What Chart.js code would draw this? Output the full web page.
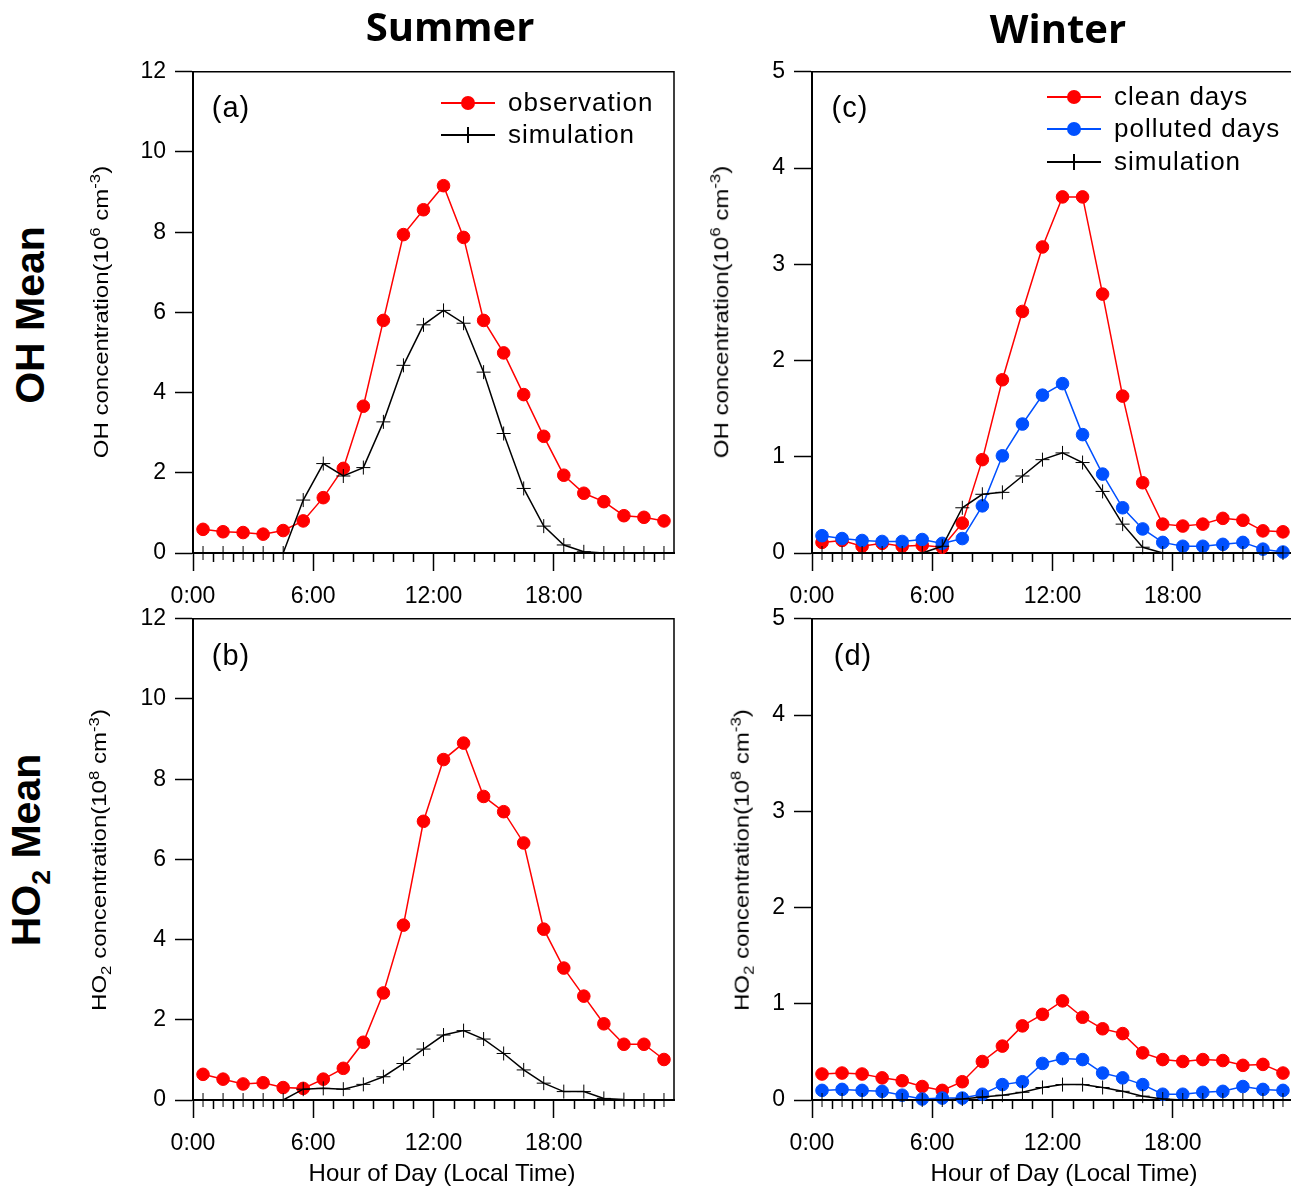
<!DOCTYPE html>
<html>
<head>
<meta charset="utf-8">
<script src="https://cdn.jsdelivr.net/npm/chart.js@4.4.1/dist/chart.umd.min.js"></script>
<style>
  body { margin:0; width:1291px; height:1188px; overflow:hidden; background:#fff; position:relative; font-family:"Liberation Sans", Arial, sans-serif; }
  canvas { position:absolute; }
  .txt { position:absolute; white-space:nowrap; color:#000; }
  .titulo { font-family:"Open Sans", sans-serif; font-weight:bold; font-size:40px; transform:translate(-50%,-50%); }
  .fila { font-weight:bold; font-size:41px; transform:translate(-50%,-50%) rotate(-90deg); }
  .ytit { font-size:20px; transform:translate(-50%,-50%) rotate(-90deg) scaleX(1.2); }
  .ytit sup, .ytit sub { font-size:0.7em; }
  .xtit { font-size:24px; transform:translate(-50%,-50%); }
  .panel { font-size:29px; letter-spacing:1px; transform:translate(-50%,-50%); }
  .row { position:absolute; height:0; width:0; }
  .row .ln { position:absolute; left:0; top:-1px; width:54px; height:2px; }
  .row .dot { position:absolute; left:20px; top:-7px; width:14px; height:14px; border-radius:50%; }
  .row .pv { position:absolute; left:26px; top:-8px; width:1.5px; height:16px; background:#000; }
  .row .lab { position:absolute; left:67px; top:0; transform:translateY(-52%); font-size:26px; letter-spacing:1px; white-space:nowrap; }
</style>
</head>
<body>

<canvas id="graf-a" width="580" height="576" style="left:110px;top:49px"></canvas>
<canvas id="graf-b" width="580" height="576" style="left:110px;top:596px"></canvas>
<canvas id="graf-c" width="580" height="576" style="left:729px;top:49px"></canvas>
<canvas id="graf-d" width="580" height="576" style="left:729px;top:596px"></canvas>

<!-- titulos -->
<div class="txt titulo" style="left:450px;top:25px">Summer</div>
<div class="txt titulo" style="left:1058px;top:27px">Winter</div>
<div class="txt fila" style="left:30px;top:315px">OH Mean</div>
<div class="txt fila" style="left:30px;top:850px">HO<sub style="font-size:0.65em">2</sub> Mean</div>

<div class="txt ytit" style="left:100px;top:312px">OH concentration(10<sup>6</sup> cm<sup>-3</sup>)</div>
<div class="txt ytit" style="left:100px;top:860px">HO<sub>2</sub> concentration(10<sup>8</sup> cm<sup>-3</sup>)</div>
<div class="txt ytit" style="left:720px;top:312px">OH concentration(10<sup>6</sup> cm<sup>-3</sup>)</div>
<div class="txt ytit" style="left:742px;top:860px">HO<sub>2</sub> concentration(10<sup>8</sup> cm<sup>-3</sup>)</div>

<div class="txt xtit" style="left:442px;top:1173px">Hour of Day (Local Time)</div>
<div class="txt xtit" style="left:1064px;top:1173px">Hour of Day (Local Time)</div>

<div class="txt panel" style="left:231px;top:107px">(a)</div>
<div class="txt panel" style="left:231px;top:655px">(b)</div>
<div class="txt panel" style="left:850px;top:107px">(c)</div>
<div class="txt panel" style="left:853px;top:655px">(d)</div>

<!-- leyendas -->
<div class="row" style="left:441px;top:103px"><span class="ln" style="background:#f00"></span><span class="dot" style="background:#f00"></span><span class="lab">observation</span></div>
<div class="row" style="left:441px;top:135px"><span class="ln" style="background:#000;height:1.5px"></span><span class="pv"></span><span class="lab">simulation</span></div>

<div class="row" style="left:1047px;top:97px"><span class="ln" style="background:#f00"></span><span class="dot" style="background:#f00"></span><span class="lab">clean days</span></div>
<div class="row" style="left:1047px;top:129px"><span class="ln" style="background:rgb(0,80,255)"></span><span class="dot" style="background:rgb(0,80,255)"></span><span class="lab">polluted days</span></div>
<div class="row" style="left:1047px;top:162px"><span class="ln" style="background:#000;height:1.5px"></span><span class="pv"></span><span class="lab">simulation</span></div>

<script>
// hora del dia (centro de cada hora)
var hours = [0.5,1.5,2.5,3.5,4.5,5.5,6.5,7.5,8.5,9.5,10.5,11.5,12.5,13.5,14.5,15.5,16.5,17.5,18.5,19.5,20.5,21.5,22.5,23.5];
var xTicks = [0, 6, 12, 18];
var xLabels = ['0:00', '6:00', '12:00', '18:00'];

// (a) OH verano [10^6 cm-3]
var ohSummerObs = [0.59,0.53,0.51,0.47,0.56,0.80,1.38,2.11,3.66,5.80,7.94,8.56,9.16,7.87,5.80,4.99,3.95,2.91,1.94,1.49,1.28,0.93,0.89,0.80];
var ohSummerSim = [0,0,0,0,0,1.32,2.23,1.92,2.13,3.27,4.68,5.69,6.05,5.73,4.51,2.98,1.61,0.67,0.20,0.03,0,0,0,0];
// (b) HO2 verano [10^8 cm-3]
var ho2SummerObs = [0.64,0.52,0.40,0.43,0.31,0.29,0.52,0.79,1.44,2.67,4.36,6.95,8.49,8.90,7.57,7.19,6.41,4.26,3.29,2.59,1.90,1.39,1.39,1.01];
var ho2SummerSim = [0,0,0,0,0,0.27,0.29,0.27,0.39,0.58,0.91,1.27,1.62,1.73,1.52,1.16,0.75,0.42,0.21,0.21,0.04,0.01,0,0];
// (c) OH invierno
var ohWinterClean = [0.11,0.13,0.07,0.10,0.07,0.08,0.06,0.31,0.97,1.80,2.51,3.18,3.70,3.70,2.69,1.63,0.73,0.30,0.28,0.30,0.36,0.34,0.23,0.22];
var ohWinterPolluted = [0.18,0.15,0.13,0.12,0.12,0.14,0.10,0.15,0.49,1.01,1.34,1.64,1.76,1.23,0.82,0.47,0.25,0.11,0.07,0.07,0.09,0.11,0.04,0.01];
var ohWinterSim = [0,0,0,0,0,0,0.07,0.47,0.61,0.63,0.80,0.97,1.04,0.94,0.64,0.30,0.06,0,0,0,0,0,0,0];
// (d) HO2 invierno
var ho2WinterClean = [0.27,0.28,0.27,0.23,0.20,0.14,0.10,0.19,0.40,0.56,0.77,0.89,1.03,0.86,0.74,0.69,0.49,0.42,0.40,0.42,0.41,0.36,0.37,0.28];
var ho2WinterPolluted = [0.10,0.11,0.10,0.09,0.05,0.01,0.02,0.02,0.06,0.16,0.19,0.38,0.43,0.42,0.28,0.23,0.16,0.06,0.06,0.08,0.09,0.14,0.11,0.10];
var ho2WinterSim = [0,0,0,0,0,0,0,0.01,0.03,0.05,0.08,0.13,0.16,0.16,0.13,0.09,0.04,0.01,0,0,0,0,0,0];

var ROJO = '#ff0000';
var AZUL = 'rgb(0,80,255)';

function pares(vals) { // junta horas con valores
  return hours.map(function(h, i) { return {x: h, y: vals[i]}; });
}

function serieObs(vals, color, orden) {
  return {
    data: pares(vals),
    borderColor: color,
    backgroundColor: color,
    borderWidth: 1.5,
    pointStyle: 'circle',
    pointRadius: 6.3,
    pointBorderWidth: 1,
    order: orden,
    clip: false
  };
}

function serieSim(vals) {
  return {
    data: pares(vals),
    borderColor: '#000',
    backgroundColor: '#000',
    borderWidth: 1.5,
    pointStyle: 'cross',
    pointRadius: 7,
    pointBorderWidth: 1,
    order: 0,
    clip: false
  };
}

// marco superior/derecho y ticks menores cada hora
var marco = {
  id: 'marco',
  afterDraw: function(chart) {
    var ctx = chart.ctx, a = chart.chartArea, xs = chart.scales.x;
    ctx.save();
    ctx.strokeStyle = '#000';
    ctx.lineWidth = 1.5;
    ctx.beginPath();
    ctx.moveTo(a.left, a.top);
    ctx.lineTo(a.right, a.top);
    ctx.lineTo(a.right, a.bottom);
    ctx.stroke();
    ctx.beginPath();
    for (var h = 1; h < 24; h++) {
      if (h % 6 === 0) continue;
      var px = Math.round(xs.getPixelForValue(h)) + 0.5;
      ctx.moveTo(px, a.bottom);
      ctx.lineTo(px, a.bottom + 9);
    }
    ctx.stroke();
    ctx.restore();
  }
};

function grafica(id, datasets, ymax, ystep) {
  var ctx = document.getElementById(id).getContext('2d');
  return new Chart(ctx, {
    type: 'line',
    data: { datasets: datasets },
    options: {
      responsive: false,
      animation: false,
      devicePixelRatio: 1,
      layout: { padding: { top: 10, right: 16, left: 0, bottom: 0 } },
      plugins: { legend: { display: false }, tooltip: { enabled: false } },
      scales: {
        x: {
          type: 'linear',
          min: 0, max: 24,
          afterFit: function(s) { s.height = 72; },
          afterBuildTicks: function(s) { s.ticks = xTicks.concat([24]).map(function(v) { return {value: v}; }); },
          ticks: {
            padding: 12,
            color: '#000',
            font: { family: 'Liberation Sans', size: 23 },
            maxRotation: 0,
            callback: function(v) { var i = xTicks.indexOf(v); return i >= 0 ? xLabels[i] : ''; }
          },
          grid: {
            drawOnChartArea: false,
            tickLength: 18,
            tickWidth: 1.5,
            tickColor: function(c) { return c.tick && c.tick.value === 24 ? 'rgba(0,0,0,0)' : '#000'; }
          },
          border: { display: true, color: '#000', width: 2 }
        },
        y: {
          min: 0, max: ymax,
          afterFit: function(s) { s.width = 83; },
          ticks: {
            stepSize: ystep,
            padding: 9,
            color: '#000',
            font: { family: 'Liberation Sans', size: 23 }
          },
          grid: { drawOnChartArea: false, tickLength: 18, tickWidth: 1.5, tickColor: '#000' },
          border: { display: true, color: '#000', width: 2 }
        }
      }
    },
    plugins: [marco]
  });
}

var graficaA = grafica('graf-a', [serieObs(ohSummerObs, ROJO, 2), serieSim(ohSummerSim)], 12, 2);
var graficaB = grafica('graf-b', [serieObs(ho2SummerObs, ROJO, 2), serieSim(ho2SummerSim)], 12, 2);
var graficaC = grafica('graf-c', [serieObs(ohWinterClean, ROJO, 2), serieObs(ohWinterPolluted, AZUL, 1), serieSim(ohWinterSim)], 5, 1);
var graficaD = grafica('graf-d', [serieObs(ho2WinterClean, ROJO, 2), serieObs(ho2WinterPolluted, AZUL, 1), serieSim(ho2WinterSim)], 5, 1);
</script>
</body>
</html>
